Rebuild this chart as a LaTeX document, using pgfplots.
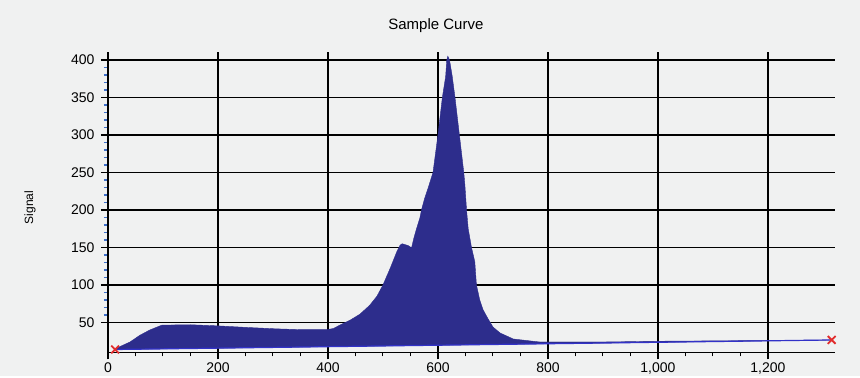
\documentclass[border=0pt]{standalone}
\usepackage{pgfplots}
\pgfplotsset{compat=1.18}
\usepackage{fontspec}
\setmainfont{Liberation Sans}
\definecolor{bg}{RGB}{240,241,241}
\definecolor{navy}{RGB}{45,45,140}
\definecolor{baseblue}{RGB}{50,50,200}
\definecolor{xred}{RGB}{225,45,45}
\definecolor{minorblue}{RGB}{60,110,200}
\begin{document}
\begin{tikzpicture}[x=1pt,y=1pt]
\fill[bg] (-108,-23.5) rectangle (752,352.5);
\begin{axis}[
  scale only axis,
  width=727pt, height=300.4pt,
  xmin=0, xmax=1322, ymin=10, ymax=410.5,
  axis x line*=bottom, axis y line*=left,
  axis line style={black, line width=1.4pt},
  xtick={0,200,...,1200}, ytick={50,100,...,400},
  minor x tick num=3, minor y tick num=4,
  tick align=outside,
  major tick length=7pt, minor tick length=4pt,
  major tick style={black, line width=1.3pt},
  minor x tick style={black, line width=1pt},
  minor y tick style={minorblue, line width=1.2pt},
  grid=major,
  major grid style={black, line width=1.4pt},
  /pgf/number format/assume math mode=true,
  /pgf/number format/1000 sep={,},
  ticklabel style={font=\fontsize{14}{16}\selectfont},
  yticklabel style={xshift=-3pt},
  title={Sample Curve},
  title style={at={(axis description cs:0.451,1)}, anchor=center, yshift=20pt, font=\fontsize{15}{17}\selectfont},
  ylabel={Signal},
  ylabel style={at={(axis description cs:-0.1073,0.4827)}, anchor=center, font=\fontsize{12}{14}\selectfont},
  clip mode=individual,
]
\addplot[fill=navy, draw=navy, line width=0.4pt] table {
x y
13 14
22 18
40 24
58 33
76 40
98 46.5
150 47
200 45.5
250 43.5
307 41.5
350 40.5
398 40.5
410 42
422 46.7
440 53
458 61
476 73
489 85
500 100
513 122
525 144
531 153
535 155
546 152.5
552 149.5
556 162
561 175
567 189
570 200
576 216
582 229
591 250
600 300
608 350
614 378
616 400
618 405
621 400
626 378
631 350
639 300
647 250
649 233
652 200
655 175
661 150
667 131
670 100
676 80
682 67
691 55
700 44
713 36
737 28
785 24
900 24
1000 25
1100 25.5
1200 26
1316 26.7
} -- cycle;
\addplot[baseblue, line width=1.2pt, mark=x, mark size=5.5pt, mark options={xred, line width=1.8pt}] coordinates {(13,14) (1316,26.7)};
\end{axis}
\end{tikzpicture}
\end{document}
